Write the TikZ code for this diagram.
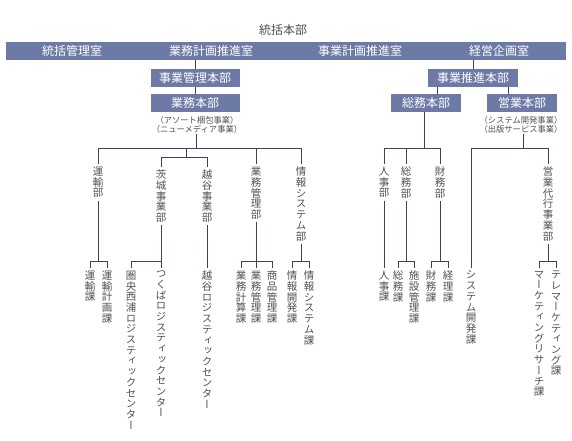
\documentclass[tikz,border=0pt]{standalone}
\usepackage{fontspec}
\newfontfamily\jp{Noto Sans CJK JP}
\newfontfamily\jptate[RawFeature=+vert]{Noto Sans CJK JP}
\usetikzlibrary{positioning}

\definecolor{barblue}{HTML}{6D7AA5}
\definecolor{linepurple}{HTML}{4A3C5C}
\definecolor{textgray}{HTML}{505050}

% one character per line, for the upright labels
\makeatletter
\newcommand\tate[1]{\vbox{\baselineskip=10.7pt\lineskiplimit=-20pt%
  \@tfor\tatechar:=#1\do{\hbox to 11pt{\hss\tatechar\hss}}}}
\makeatother

\begin{document}
\begin{tikzpicture}[x=1pt, y=-1pt,
  bar/.style={fill=barblue, draw=none, inner sep=0pt, outer sep=0pt, minimum height=18pt},
  hq/.style={fill=barblue, text=white, font=\jp\fontsize{12}{12}\selectfont, inner sep=0pt, outer sep=0pt, minimum height=18pt},
  bartxt/.style={text=white, font=\jp\fontsize{12}{12}\selectfont, inner sep=0pt},
  note/.style={text=textgray, font=\jp\fontsize{8.3}{9.5}\selectfont, align=center, inner sep=0pt, outer sep=1pt, anchor=north},
  vlabel/.style={text=textgray, font=\jptate\fontsize{10.5}{10.7}\selectfont, inner sep=0pt, outer xsep=0pt, outer ysep=3pt, anchor=north},
  link/.style={draw=linepurple, line width=0.8pt},
]
\useasboundingbox (0,0) rectangle (572,440);

% top
\node[text=textgray, font=\jp\fontsize{12}{12}\selectfont, inner sep=0pt] (title) at (283,30) {統括本部};
\node[bar, minimum width=560pt] (banner) at (286,51) {};
\node[bartxt] (kanri)  at (72,51)  {統括管理室};
\node[bartxt] (gyokei) at (211,51) {業務計画推進室};
\node[bartxt] (jikei)  at (360,51) {事業計画推進室};
\node[bartxt] (keiei)  at (499,51) {経営企画室};

% headquarters boxes
\node[hq, minimum width=89pt] (jkh) at (195,78)    {事業管理本部};
\node[hq, minimum width=89pt] (gmh) at (195,102.5) {業務本部};
\node[note] (gmnote) at (197,115) {（アソート梱包事業）\\（ニューメディア事業）};

\node[hq, minimum width=90pt] (jsh) at (473,78)    {事業推進本部};
\node[hq, minimum width=70pt] (smh) at (426,102.5) {総務本部};
\node[hq, minimum width=70pt] (eih) at (522,102.5) {営業本部};
\node[note] (einote) at (521,115) {（システム開発事業）\\（出版サービス事業）};

% departments
\node[vlabel] (unyu)      at (98,164)  {\tate{運輸部}};
\node[vlabel] (ibaraki)   at (161,167) {\tate{茨城事業部}};
\node[vlabel] (koshigaya) at (207,167) {\tate{越谷事業部}};
\node[vlabel] (gyokan)    at (256,164) {\tate{業務管理部}};
\node[vlabel] (joho)      at (301,164) {\tate{情報システム部}};
\node[vlabel] (jinji)     at (384,164) {\tate{人事部}};
\node[vlabel] (somu)      at (406,164) {\tate{総務部}};
\node[vlabel] (zaimu)     at (440,164) {\tate{財務部}};
\node[vlabel] (eidai)     at (548,164) {\tate{営業代行事業部}};

% sections
\node[vlabel] (unyuka)    at (90,268)  {\tate{運輸課}};
\node[vlabel] (unkeika)   at (107,268) {\tate{運輸計画課}};
\node[vlabel] (kenou)     at (131,268) {\tate{圏央西浦ロジスティックセンター}};
\node[vlabel] (tsukuba)   at (161,268) {\tate{つくばロジスティックセンター}};
\node[vlabel] (koshilc)   at (207,268) {\tate{越谷ロジスティックセンター}};
\node[vlabel] (gkeisan)   at (241,268) {\tate{業務計算課}};
\node[vlabel] (gkanri)    at (256,268) {\tate{業務管理課}};
\node[vlabel] (shohin)    at (272,268) {\tate{商品管理課}};
\node[vlabel] (jkaihatsu) at (292,268) {\tate{情報開発課}};
\node[vlabel] (jsys)      at (309,268) {\tate{情報システム課}};
\node[vlabel] (jinjika)   at (384,268) {\tate{人事課}};
\node[vlabel] (somuka)    at (398,268) {\tate{総務課}};
\node[vlabel] (shisetsu)  at (414,268) {\tate{施設管理課}};
\node[vlabel] (zaimuka)   at (431,268) {\tate{財務課}};
\node[vlabel] (keiri)     at (448,268) {\tate{経理課}};
\node[vlabel] (syskai)    at (471,268) {\tate{システム開発課}};
\node[vlabel] (marke)     at (539,268) {\tate{マーケティングリサーチ課}};
\node[vlabel] (tele)      at (556,268) {\tate{テレマーケティング課}};

% joints
\coordinate (lb) at (196,148);
\coordinate (ib) at (186,157);
\coordinate (sj) at (424,148);
\coordinate (ej) at (523,148);
\coordinate (sa) at (437,0);
\coordinate (ea) at (508,0);
\coordinate (lv) at (0,261);

% upper links
\draw[link] (jkh.north) -- (jkh.north |- banner.south);
\draw[link] (jkh.south) -- (gmh.north);
\draw[link] (jsh.north) -- (jsh.north |- banner.south);
\draw[link] (sa |- jsh.south) -- (sa |- smh.north);
\draw[link] (ea |- jsh.south) -- (ea |- eih.north);

% left tree
\draw[link] (gmnote.south -| lb) -- (lb);
\draw[link] (unyu.north) -- (unyu.north |- lb) -- (joho.north |- lb) -- (joho.north);
\draw[link] (gyokan.north) -- (gyokan.north |- lb);
\draw[link] (ib |- lb) -- (ib);
\draw[link] (ibaraki.north) -- (ibaraki.north |- ib) -- (koshigaya.north |- ib) -- (koshigaya.north);

\draw[link] (unyu.south) -- (unyu.south |- lv);
\draw[link] (unyuka.north) -- (unyuka.north |- lv) -- (unkeika.north |- lv) -- (unkeika.north);
\draw[link] (ibaraki.south) -- (tsukuba.north);
\draw[link] (kenou.north) -- (kenou.north |- lv) -- (ibaraki.south |- lv);
\draw[link] (koshigaya.south) -- (koshilc.north);
\draw[link] (gyokan.south) -- (gkanri.north);
\draw[link] (gkeisan.north) -- (gkeisan.north |- lv) -- (shohin.north |- lv) -- (shohin.north);
\draw[link] (joho.south) -- (joho.south |- lv);
\draw[link] (jkaihatsu.north) -- (jkaihatsu.north |- lv) -- (jsys.north |- lv) -- (jsys.north);

% right tree
\draw[link] (smh.south -| sj) -- (sj);
\draw[link] (jinji.north) -- (jinji.north |- sj) -- (zaimu.north |- sj) -- (zaimu.north);
\draw[link] (somu.north) -- (somu.north |- sj);
\draw[link] (einote.south -| ej) -- (ej);
\draw[link] (syskai.north) -- (syskai.north |- ej) -- (eidai.north |- ej) -- (eidai.north);

\draw[link] (jinji.south) -- (jinjika.north);
\draw[link] (somu.south) -- (somu.south |- lv);
\draw[link] (somuka.north) -- (somuka.north |- lv) -- (shisetsu.north |- lv) -- (shisetsu.north);
\draw[link] (zaimu.south) -- (zaimu.south |- lv);
\draw[link] (zaimuka.north) -- (zaimuka.north |- lv) -- (keiri.north |- lv) -- (keiri.north);
\draw[link] (eidai.south) -- (eidai.south |- lv);
\draw[link] (marke.north) -- (marke.north |- lv) -- (tele.north |- lv) -- (tele.north);
\end{tikzpicture}
\end{document}
